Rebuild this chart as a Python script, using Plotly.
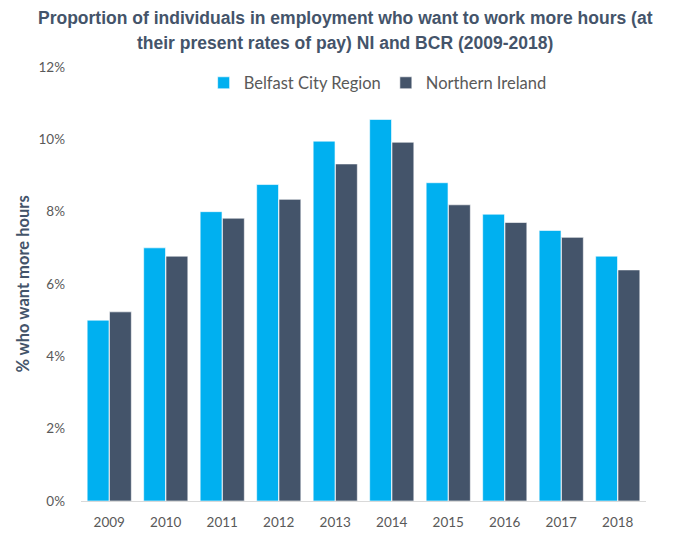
import plotly.graph_objects as go

years = ["2009", "2010", "2011", "2012", "2013", "2014", "2015", "2016", "2017", "2018"]
bcr = [5.0, 7.0, 8.0, 8.75, 9.95, 10.55, 8.8, 7.93, 7.48, 6.77]
ni = [5.23, 6.77, 7.82, 8.34, 9.32, 9.92, 8.19, 7.7, 7.29, 6.39]
y_ticks = [0, 2, 4, 6, 8, 10, 12]
y_labels = [f"{v}%" for v in y_ticks]
title_lines = [
    "Proportion of individuals in employment who want to work more hours (at",
    "their present rates of pay) NI and BCR (2009-2018)",
]

text_col = "#44546A"
tick_col = "#595959"
body_font = "Lato, Open Sans, sans-serif"

fig = go.Figure()
fig.add_trace(go.Bar(
    name="Belfast City Region", x=years, y=bcr,
    marker=dict(color="#00B0F0", line=dict(color="rgba(255,255,255,0.6)", width=1)),
))
fig.add_trace(go.Bar(
    name="Northern Ireland", x=years, y=ni,
    marker=dict(color="#44546A", line=dict(color="rgba(255,255,255,0.6)", width=1)),
))

# plot area spans pixels x 81..646, y 67..501
for line, ypos in zip(title_lines, [1.113, 1.055]):
    fig.add_annotation(
        text=line, xref="paper", yref="paper", x=0.468, y=ypos,
        xanchor="center", yanchor="middle", showarrow=False,
        font=dict(family="Liberation Sans, Arial, sans-serif", size=17.5, color=text_col, weight="bold"),
    )

fig.update_layout(
    width=691, height=537,
    margin=dict(l=81, r=45, t=67, b=36),
    paper_bgcolor="white", plot_bgcolor="white",
    barmode="group", bargap=0.21, bargroupgap=0.02,
    font=dict(family=body_font, size=13, color=tick_col),
    legend=dict(
        orientation="h", x=0.525, xanchor="center", y=0.963, yanchor="middle",
        font=dict(family=body_font, size=16.5, color=tick_col),
        itemwidth=30, bgcolor="rgba(0,0,0,0)",
    ),
    xaxis=dict(
        automargin=False,
        showgrid=False, showline=True, linecolor="#D9D9D9", linewidth=1,
        ticks="", ticklabelstandoff=9,
        tickfont=dict(size=13.5, color=tick_col),
    ),
    yaxis=dict(
        automargin=False,
        range=[0, 12], tickvals=y_ticks, ticktext=y_labels,
        showgrid=False, zeroline=False, showline=False,
        ticks="", ticklabelstandoff=15,
        tickfont=dict(size=13.5, color=tick_col),
        title=dict(text="% who want more hours", standoff=4,
                   font=dict(family=body_font, size=16.5, color=text_col, weight="bold")),
    ),
)

fig.write_html("out.html")
